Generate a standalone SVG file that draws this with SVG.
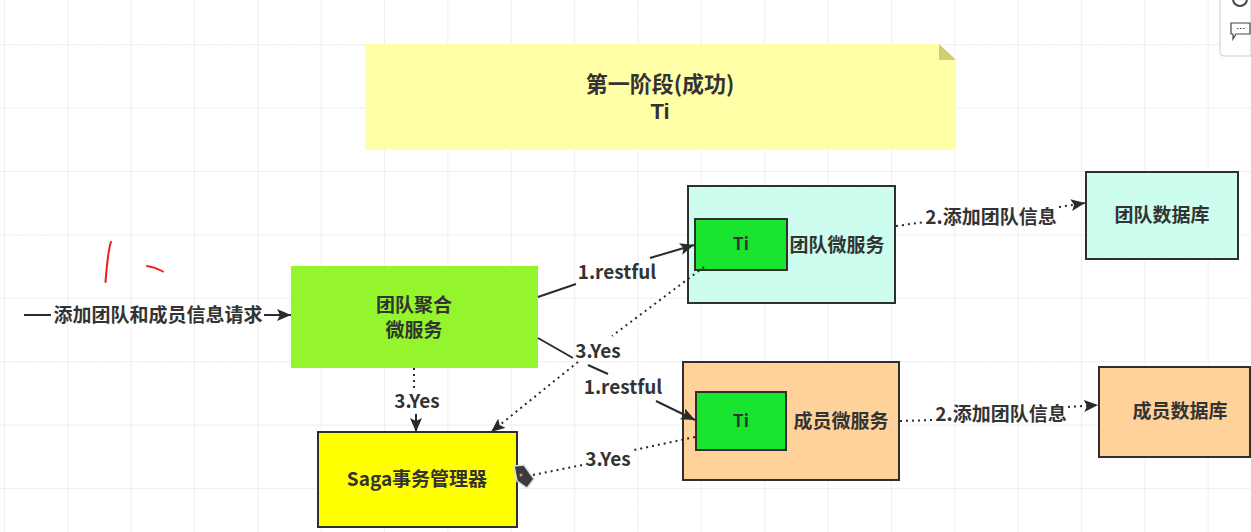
<svg xmlns="http://www.w3.org/2000/svg" width="1251" height="532" viewBox="0 0 1251 532">
<style>
text{font-family:"Noto Sans CJK SC","Noto Sans",sans-serif;font-weight:700;font-size:19px;fill:#333;text-anchor:middle}
.title{font-size:22px}
.latin{font-family:"Liberation Sans",sans-serif}
.ti{font-size:17px}
.box{stroke:#2f2f2f;stroke-width:2}
.solid{fill:none;stroke:#2b2b2b;stroke-width:2}
.dot{fill:none;stroke:#2b2b2b;stroke-width:2;stroke-dasharray:2 4}
.grid{fill:none;stroke:#efefef;stroke-width:1}
</style>
<defs>
<marker id="arr" markerUnits="userSpaceOnUse" markerWidth="15" markerHeight="12" refX="14" refY="6" orient="auto"><path d="M0 0L14 6L0 12L3 6Z" fill="#2b2b2b"/></marker>
<pattern id="minor" width="12.67" height="12.67" patternUnits="userSpaceOnUse" x="4.5" y="7"><rect width="1" height="1" fill="#f3f3f3"/></pattern>
</defs>
<rect width="1251" height="532" fill="#fff"/>
<rect width="1251" height="532" fill="url(#minor)"/>
<path class="grid" d="M4.5 0V532M67.800 0V532M131.200 0V532M194.500 0V532M257.900 0V532M321.200 0V532M384.600 0V532M447.900 0V532M511.300 0V532M574.600 0V532M638 0V532M701.300 0V532M764.700 0V532M828 0V532M891.400 0V532M954.700 0V532M1018.100 0V532M1081.400 0V532M1144.800 0V532M1208.100 0V532M0 44.700H1251M0 108H1251M0 171.500H1251M0 235H1251M0 298.300H1251M0 361.700H1251M0 425H1251M0 488.400H1251"/>
<g id="scribble" fill="none" stroke="#f01c1c" stroke-width="2" stroke-linecap="round"><path d="M111 242Q108 250 105.500 282"/><path d="M147 266Q155 267 163 271.500"/></g>
<g id="note"><path d="M365 44H939L956 60V150H365Z" fill="#ffffa8"/><path d="M939 44L956 60H939Z" fill="#cfcf70"/><text class="title"><tspan x="660" y="92">第一阶段(成功)</tspan><tspan class="latin" x="660" y="119">Ti</tspan></text></g>
<g id="aggregate"><rect x="291" y="266" width="247" height="102" fill="#94f52c"/><text><tspan x="414" y="312">团队聚合</tspan><tspan x="414" y="337">微服务</tspan></text></g>
<g id="saga"><rect class="box" x="318" y="432" width="199" height="95" fill="#ffff00"/><text x="417" y="486">Saga事务管理器</text></g>
<g id="team-service"><rect class="box" x="688" y="186" width="207" height="117" fill="#ccfdee"/></g>
<g id="team-ti"><rect class="box" x="695" y="219" width="92" height="51" fill="#19e52e"/><text class="ti" x="741" y="250">Ti</text></g>
<text x="837" y="252">团队微服务</text>
<g id="member-service"><rect class="box" x="683" y="362" width="216" height="118" fill="#ffd29c"/></g>
<g id="member-ti"><rect class="box" x="696" y="392" width="90" height="58" fill="#19e52e"/><text class="ti" x="741" y="427">Ti</text></g>
<text x="841" y="428">成员微服务</text>
<g id="team-db"><rect class="box" x="1086" y="172" width="152" height="87" fill="#ccfdee"/><text x="1162" y="222">团队数据库</text></g>
<g id="member-db"><rect class="box" x="1099" y="367" width="151" height="90" fill="#ffd29c"/><text x="1180" y="418">成员数据库</text></g>
<g id="connectors">
<path class="solid" d="M24 315H51"/>
<path class="solid" marker-end="url(#arr)" d="M264 315H291"/>
<path class="solid" d="M538 297L576 284"/>
<path class="solid" marker-end="url(#arr)" d="M650 258L694 245"/>
<path class="solid" d="M538 338L573 358M588 365L608 374"/>
<path class="solid" marker-end="url(#arr)" d="M656 401L695 420"/>
<path class="dot" d="M414 368V388"/>
<path class="solid" marker-end="url(#arr)" d="M416 414V432"/>
<path class="dot" d="M704 267L612 336"/>
<path class="dot" marker-end="url(#arr)" d="M578 362L491 432"/>
<path class="dot" d="M695 437L634 450"/>
<path class="dot" d="M582 465L533 475"/>
<path class="dot" d="M896 226L925 222"/>
<path class="dot" marker-end="url(#arr)" d="M1059 207L1085 203"/>
<path class="dot" d="M900 421L934 420"/>
<path class="dot" marker-end="url(#arr)" d="M1068 407L1098 405"/>
</g>
<g id="labels">
<text x="158" y="322">添加团队和成员信息请求</text>
<text x="617" y="279">1.restful</text>
<text x="623" y="394">1.restful</text>
<text x="598" y="358">3.Yes</text>
<text x="417" y="408">3.Yes</text>
<text x="608" y="466">3.Yes</text>
<text x="991" y="224">2.添加团队信息</text>
<text x="1001" y="421">2.添加团队信息</text>
</g>
<g id="cursor"><path d="M514 466L524 465L534 479L527 488L517 481Z" fill="#3b3b3b" stroke="#ddd" stroke-width="1.500"/><circle cx="521" cy="475" r="1.500" fill="#e88"/></g>
<g id="toolbar"><path d="M1220 -2V53Q1220 56 1224 56H1251V-2Z" fill="#fff" stroke="#ccc"/><circle cx="1240" cy="-1" r="7" fill="none" stroke="#444" stroke-width="2"/><path d="M1231 23H1250V34H1236L1233 39V34H1231Z" fill="#fff" stroke="#444" stroke-width="1.200"/><path d="M1237 28.500H1245" stroke="#444" stroke-dasharray="1.500 1.500"/></g>
</svg>
